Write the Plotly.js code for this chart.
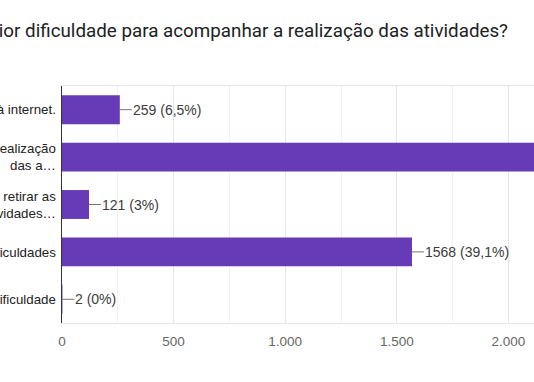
<!DOCTYPE html>
<html><head><meta charset="utf-8">
<script src="https://cdn.plot.ly/plotly-3.0.1.min.js"></script>
<style>
html,body{margin:0;padding:0;overflow:hidden;width:534px;height:382px;background:#fff}
#chart{position:absolute;left:-198px;top:0;width:898px;height:382px}
</style>
</head><body><div id="chart"></div>
<script>
const questionTitle = "Qual a sua maior dificuldade para acompanhar a realização das atividades?";
const categories = [
  "Falta de acesso à internet.",
  "Falta de tempo para a realização<br>das a…",
  "Dificuldade para retirar as<br>atividades…",
  "Não tenho dificuldades",
  "Outra dificuldade"
];
const counts = [259, 2200, 121, 1568, 2];
const percentLabels = ["6,5%", "53%", "3%", "39,1%", "0%"];
const xTickValues = [0, 500, 1000, 1500, 2000, 2500];

const barColor = "#673ab7";

const trace = {
  type: "bar",
  orientation: "h",
  x: counts,
  y: categories,
  marker: {color: barColor},
  hoverinfo: "none"
};

const annotations = counts.map((v, i) => ({
  x: v, y: categories[i], xref: "x", yref: "y",
  text: v + " (" + percentLabels[i] + ")",
  showarrow: true, arrowhead: 0, arrowwidth: 1, arrowcolor: "#757575",
  ax: 12, ay: 0, xanchor: "left", standoff: 0, borderpad: 0,
  font: {family: "Liberation Sans, Arial, sans-serif", size: 14, color: "#3c3c3c"}
}));

const layout = {
  width: 898, height: 382,
  margin: {l: 260, r: 80, t: 86, b: 59},
  separators: ",.",
  paper_bgcolor: "#fff", plot_bgcolor: "#fff",
  showlegend: false,
  bargap: 0.39,
  title: {
    text: questionTitle,
    xref: "container", x: 706/898, xanchor: "right",
    yref: "container", y: 1 - 30/382, yanchor: "middle",
    font: {family: "Roboto, Open Sans, sans-serif", size: 18.8, color: "#202124"}
  },
  xaxis: {
    range: [0, 2500],
    tickvals: xTickValues,
    tickformat: ",d",
    showgrid: true, gridcolor: "#e6e6e6", gridwidth: 1,
    minor: {dtick: 250, showgrid: true, gridcolor: "#f1f1f1", gridwidth: 1},
    zeroline: false,
    showline: true, mirror: true, linecolor: "#e6e6e6", linewidth: 1,
    ticks: "", ticklabelstandoff: 6,
    tickfont: {family: "Liberation Sans, Arial, sans-serif", size: 13.5, color: "#666"},
    fixedrange: true
  },
  yaxis: {
    type: "category",
    autorange: "reversed",
    showgrid: false, zeroline: false,
    showline: true, linecolor: "#333", linewidth: 1.5,
    ticks: "", ticklabelstandoff: 2,
    tickfont: {family: "Liberation Sans, Arial, sans-serif", size: 13.3, color: "#222"},
    fixedrange: true
  },
  annotations: annotations
};

Plotly.newPlot("chart", [trace], layout, {displayModeBar: false, staticPlot: true});
</script>
</body></html>
